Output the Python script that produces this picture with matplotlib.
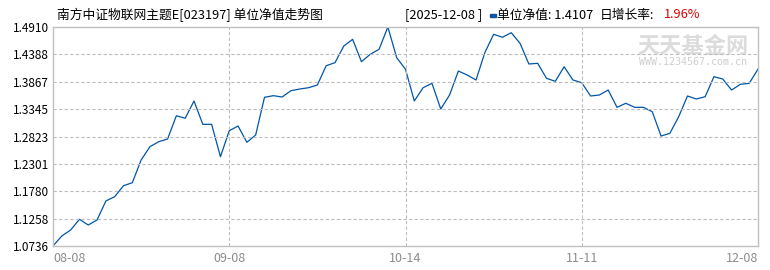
import matplotlib.pyplot as plt
import matplotlib.patches as mpatches
import numpy as np

plt.rcParams['font.family'] = ['Noto Sans CJK SC', 'DejaVu Sans']

# 单位净值 (81 个交易日)
nav = [1.0736, 1.0927, 1.1041, 1.1245, 1.1136, 1.1232, 1.1594, 1.1676, 1.1885, 1.1942,
       1.2375, 1.2629, 1.2724, 1.2775, 1.3219, 1.3170, 1.3500, 1.3055, 1.3055, 1.2438,
       1.2933, 1.3023, 1.2712, 1.2852, 1.3570, 1.3601, 1.3576, 1.3696, 1.3728, 1.3753,
       1.3805, 1.4172, 1.4230, 1.4548, 1.4675, 1.4249, 1.4390, 1.4485, 1.4910, 1.4325,
       1.4104, 1.3500, 1.3753, 1.3837, 1.3347, 1.3614, 1.4071, 1.3995, 1.3900, 1.4420,
       1.4771, 1.4714, 1.4801, 1.4599, 1.4205, 1.4218, 1.3932, 1.3875, 1.4153, 1.3900,
       1.3848, 1.3595, 1.3614, 1.3709, 1.3379, 1.3456, 1.3379, 1.3379, 1.3296, 1.2832,
       1.2884, 1.3200, 1.3595, 1.3538, 1.3581, 1.3963, 1.3919, 1.3709, 1.3818, 1.3836,
       1.4107]
x_tick_pos = [0, 20, 40, 60, 80]
x_tick_labels = ['08-08', '09-08', '10-14', '11-11', '12-08']
y_ticks = [1.0736, 1.1258, 1.1780, 1.2301, 1.2823, 1.3345, 1.3867, 1.4388, 1.4910]
y_tick_labels = ['1.0736', '1.1258', '1.1780', '1.2301', '1.2823', '1.3345', '1.3867', '1.4388', '1.4910']

fig = plt.figure(figsize=(7.7, 2.7), dpi=100)
ax = fig.add_axes([53/770, 24/270, 705/770, 219/270])

x = np.arange(len(nav))
ax.plot(x, nav, color='#0056a8', lw=0.9)

ax.set_xlim(0, len(nav) - 1)
ax.set_ylim(y_ticks[0], y_ticks[-1])
ax.set_xticks(x_tick_pos)
ax.set_xticklabels(x_tick_labels, color='#8c8c8c', fontsize=9)
ax.get_xticklabels()[0].set_ha('left')
ax.get_xticklabels()[-1].set_ha('right')
ax.set_yticks(y_ticks)
ax.set_yticklabels(y_tick_labels, color='black', fontsize=8.5)
ax.tick_params(length=0, pad=3)
ax.tick_params(axis='x', pad=4)

for v in y_ticks[1:-1]:
    ax.axhline(v, color='#bdbdbd', lw=0.8, ls=(0, (3, 2)))
for p in x_tick_pos[1:-1]:
    ax.axvline(p, color='#bdbdbd', lw=0.8, ls=(0, (3, 2)))
for s in ax.spines.values():
    s.set_color('#c0c0c0')
    s.set_linewidth(1)

# 水印
ax.text(0.908, 0.913, '天天基金网', transform=ax.transAxes, fontsize=16, fontweight='bold',
        color='#dcdcdc', ha='center', va='center', zorder=0)
ax.text(0.908, 0.84, 'WWW.1234567.com.cn', transform=ax.transAxes, fontsize=7.2,
        color='#cfcfcf', ha='center', va='center', zorder=0, family='DejaVu Sans Mono')

# 标题
fig.text(57/770, 1 - 15/270, '南方中证物联网主题E[023197] 单位净值走势图', fontsize=9.2, va='center')
fig.text(405/770, 1 - 15/270, '[2025-12-08 ]', fontsize=9.2, va='center')
fig.patches.append(mpatches.Rectangle((490/770, 1 - 16.5/270), 6/770, 3/270,
                                      transform=fig.transFigure, color='#0056a8'))
fig.text(497/770, 1 - 15/270, '单位净值: 1.4107', fontsize=9.2, va='center')
fig.text(600/770, 1 - 15/270, '日增长率:', fontsize=9.2, va='center')
fig.text(664/770, 1 - 15/270, '1.96%', fontsize=9.2, va='center', color='#e00000')

fig.savefig('out.png', dpi=100)
